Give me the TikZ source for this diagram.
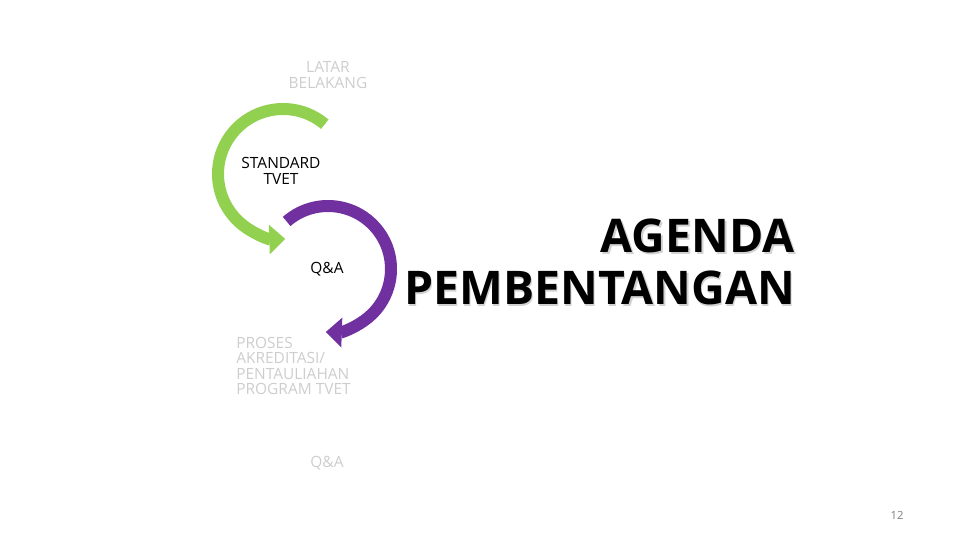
\documentclass[tikz,border=0pt]{standalone}
\usepackage{fontspec}
\setmainfont{Open Sans}
\usepackage{xcolor}
\definecolor{CycleGreen}{HTML}{92D050}
\definecolor{CyclePurple}{HTML}{7030A0}
\definecolor{FadedGray}{HTML}{CDCDCD}
\definecolor{PageGray}{HTML}{7F7F7F}
\usepackage{tikz}
\usetikzlibrary{arrows.meta}

\begin{document}
\begin{tikzpicture}[
        x=0.025cm, y=-0.025cm,
        item/.style={align=center, inner sep=0pt, font=\fontsize{11}{11}\selectfont},
        faded/.style={item, text=FadedGray},
        active/.style={item, text=black},
        cycle/.style={line width=0.3cm, -{Triangle[width=0.72cm, length=0.4cm]}},
        heading/.style={align=right, anchor=north east, inner sep=0pt, font=\bfseries\fontsize{33}{37}\selectfont}
    ]
        \useasboundingbox (0,0) rectangle (960,540);

        % Cycle arrows
        \draw[cycle, CycleGreen] (283,174) ++(-50:65) arc[start angle=-50, end angle=-272, radius=65];
        \draw[cycle, CyclePurple] (328,269) ++(-131:63) arc[start angle=-131, end angle=92, radius=63];

        % Agenda items
        \node[faded] (latar) at (328,75) {LATAR\\BELAKANG};
        \node[active] (standard) at (281,171) {STANDARD\\TVET};
        \node[active] (qa) at (327,269) {Q\&A};
        \node[faded, align=left, anchor=north west] (proses) at (236,337) {PROSES\\AKREDITASI/\\PENTAULIAHAN\\PROGRAM TVET};
        \node[faded] (qaend) at (327,463) {Q\&A};

        % Title
        \node[heading, text=gray!35] (titleshadow) at (796.5,220.5) {AGENDA\\PEMBENTANGAN};
        \node[heading, text=black] (title) at (795,219) {AGENDA\\PEMBENTANGAN};

        % Page number
        \node[inner sep=0pt, text=PageGray, font=\fontsize{8}{9}\selectfont] (pagenum) at (897,515) {12};
    \end{tikzpicture}
\end{document}
